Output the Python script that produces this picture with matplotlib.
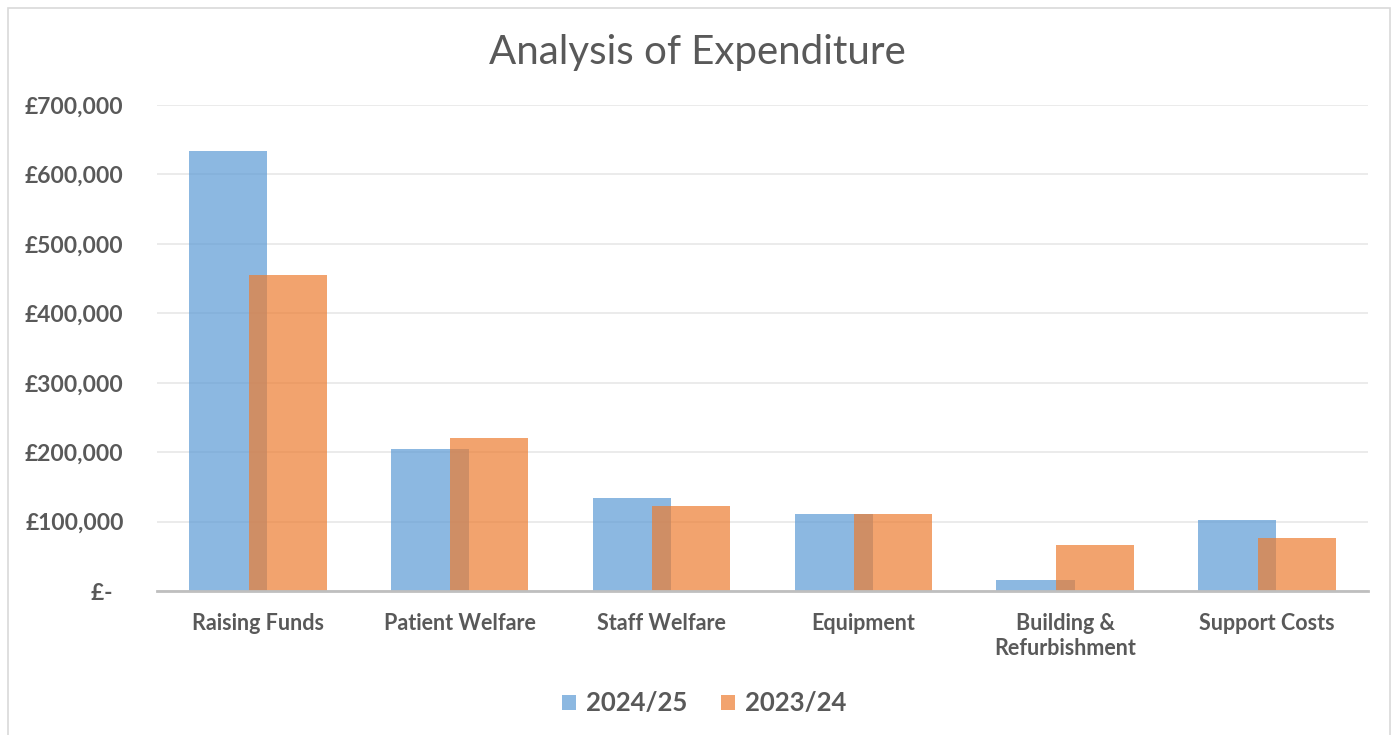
import matplotlib

matplotlib.use("Agg")
import matplotlib.pyplot as plt
from matplotlib.ticker import FuncFormatter
from matplotlib.patches import Patch, Rectangle
import numpy as np

# Data
categories = [
    "Raising Funds",
    "Patient Welfare",
    "Staff Welfare",
    "Equipment",
    "Building &\nRefurbishment",
    "Support Costs",
]
series_names = ["2024/25", "2023/24"]
spend_2425 = [634000, 205000, 134000, 111000, 15500, 103000]
spend_2324 = [455000, 221000, 123000, 111000, 66000, 77000]
y_ticks = [0, 100000, 200000, 300000, 400000, 500000, 600000, 700000]

BLUE = "#5B9BD5"
ORANGE = "#ED7D31"
TEXT = "#595959"
FONT = ["Lato", "DejaVu Sans"]


def money(v, pos=None):
    """Excel accounting style labels"""
    if v == 0:
        return "£-  "
    return f"£{v:,.0f}"


def main():
    plt.rcParams["font.family"] = FONT
    fig = plt.figure(figsize=(13.97, 7.35), dpi=100)
    ax = fig.add_axes([0.1124, 0.1959, 0.8668, 0.6612])

    x = np.arange(len(categories))
    width = 0.387
    offset = 0.147

    # overlapping bars, second series drawn on top
    ax.bar(x - offset, spend_2425, width, color=BLUE, alpha=0.7, label=series_names[0], zorder=2)
    ax.bar(x + offset, spend_2324, width, color=ORANGE, alpha=0.7, label=series_names[1], zorder=3)

    ax.set_xlim(-0.5, len(categories) - 0.5)
    ax.set_ylim(0, 700000)
    ax.set_yticks(y_ticks)
    ax.yaxis.set_major_formatter(FuncFormatter(money))
    ax.set_xticks(x)
    ax.set_xticklabels(categories)

    ax.grid(axis="y", color="#E8E8E8", linewidth=1.2, zorder=0)
    ax.set_axisbelow(True)
    for side in ["top", "right", "left"]:
        ax.spines[side].set_visible(False)
    ax.spines["bottom"].set_color("#BFBFBF")
    ax.spines["bottom"].set_linewidth(2)
    ax.spines["bottom"].set_zorder(4)

    ax.tick_params(axis="y", length=0, pad=24, labelsize=16.5, labelcolor=TEXT)
    ax.tick_params(axis="x", length=0, pad=16, labelsize=15.5, labelcolor=TEXT)
    for lbl in ax.get_yticklabels() + ax.get_xticklabels():
        lbl.set_fontweight("bold")
    for lbl in ax.get_xticklabels():
        lbl.set_linespacing(1.25)
        lbl.set_verticalalignment("top")

    fig.text(0.499, 0.929, "Analysis of Expenditure", ha="center", va="center",
             fontsize=29, color=TEXT)

    handles = [Patch(facecolor=BLUE, alpha=0.7), Patch(facecolor=ORANGE, alpha=0.7)]
    leg = fig.legend(handles, series_names, loc="center", bbox_to_anchor=(0.504, 0.043),
                     ncol=2, frameon=False, handlelength=0.55, handleheight=0.55,
                     handletextpad=0.4, columnspacing=1.3,
                     prop={"size": 18.5, "weight": "bold", "family": FONT})
    for t in leg.get_texts():
        t.set_color(TEXT)

    # light chart-area border like the Excel export
    fig.patches.append(Rectangle((8 / 1397, -0.01), 1382 / 1397, 1 - 8 / 735 + 0.01,
                                 transform=fig.transFigure, fill=False,
                                 edgecolor="#D9D9D9", linewidth=1.2))

    fig.savefig("out.png", dpi=100, facecolor="white")


if __name__ == "__main__":
    main()
